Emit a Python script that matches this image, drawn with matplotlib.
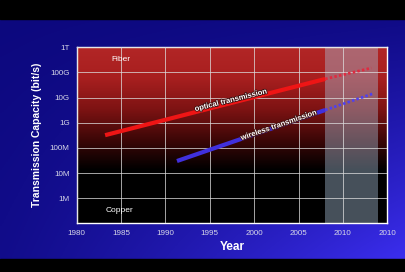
import numpy as np
import matplotlib
matplotlib.use('Agg')
import matplotlib.pyplot as plt
import matplotlib.patheffects as pe
from matplotlib.colors import LinearSegmentedColormap

plt.rcParams['font.family'] = ['Liberation Sans', 'DejaVu Sans']

# data
opt_years = [1983.2, 2008]
opt_rate = [3.2e8, 5.5e10]
opt_proj_years = [2008, 2013.2]
opt_proj_rate = [5.5e10, 1.5e11]

wl_years = [1991.3, 2008]
wl_rate = [3e7, 3.2e9]
wl_proj_years = [2008, 2013.3]
wl_proj_rate = [3.2e9, 1.4e10]

forecast_span = [2008, 2014]

x_ticks = [1980, 1985, 1990, 1995, 2000, 2005, 2010, 2015]
x_labels = ['1980', '1985', '1990', '1995', '2000', '2005', '2010', '2010']
y_ticks = [1e6, 1e7, 1e8, 1e9, 1e10, 1e11, 1e12]
y_labels = ['1M', '10M', '100M', '1G', '10G', '100G', '1T']

W, H = 406, 272
fig = plt.figure(figsize=(W / 100, H / 100), dpi=100)
fig.patch.set_facecolor('black')

# blue slide background, dark top-left to bright bottom-right
bg = fig.add_axes([0, 0, 1, 1])
bg.set_axis_off()
xx, yy = np.meshgrid(np.linspace(0, 1, 200), np.linspace(0, 1, 200))
t = np.clip(0.12 * yy + 0.04 * xx + 0.84 * (xx * yy) ** 1.2, 0, 1)
dark = np.array([12, 8, 125]) / 255
bright = np.array([62, 48, 245]) / 255
img = dark[None, None, :] * (1 - t[..., None]) + bright[None, None, :] * t[..., None]
bg.imshow(img, extent=[0, 1, 0, 1], origin='upper', aspect='auto')
bg.axhspan(1 - 19 / H, 1, color='black')
bg.axhspan(0, 13 / H, color='black')
bg.set_xlim(0, 1)
bg.set_ylim(0, 1)

ax = fig.add_axes([76.7 / W, 48.7 / H, 310.6 / W, 176 / H])
ax.set_yscale('log')
ax.set_xlim(1980, 2015)
ax.set_ylim(1e5, 1e12)

# red to black fill of the plot area
red_cmap = LinearSegmentedColormap.from_list('fb', ['black', '#3e0707', '#7e1313', '#a81f1f', '#b22626'])
grad = np.linspace(0, 1, 256)
grad = np.clip((grad - 2.1 / 7) / (1 - 2.1 / 7), 0, 1)
ax.imshow(grad[:, None], extent=[0, 1, 0, 1], origin='lower', aspect='auto',
          cmap=red_cmap, transform=ax.transAxes, zorder=0)

ax.axvspan(forecast_span[0], forecast_span[1], color='#a8c0d8', alpha=0.42, lw=0, zorder=1)

ax.set_xticks(x_ticks)
ax.set_xticklabels(x_labels)
ax.set_yticks(y_ticks)
ax.set_yticklabels(y_labels)
ax.minorticks_off()
ax.grid(True, color='#dddddd', lw=0.7, alpha=0.75, zorder=2)
ax.set_axisbelow(False)
ax.tick_params(length=0, colors='#d8d8e8', labelsize=5.8, pad=5)
for s in ax.spines.values():
    s.set_color('white')
    s.set_linewidth(1.0)

ax.plot(opt_years, opt_rate, color='#ee1515', lw=3, solid_capstyle='butt', zorder=3)
ax.plot(opt_proj_years, opt_proj_rate, color='#e02a40', lw=2.0, ls=(0, (0.9, 0.8)), zorder=3)
ax.plot(wl_years, wl_rate, color='#4030dd', lw=3, solid_capstyle='butt', zorder=3)
ax.plot(wl_proj_years, wl_proj_rate, color='#5040ee', lw=2.0, ls=(0, (0.9, 0.8)), zorder=3)

stroke = [pe.withStroke(linewidth=1.2, foreground='#401010')]
ax.text(1997.4, 7.5e9, 'optical transmission', color='white', fontsize=5.5, fontweight='bold',
        rotation=14, ha='center', va='center', zorder=4, path_effects=stroke)
ax.text(2002.8, 7.6e8, 'wireless transmission', color='white', fontsize=5.5, fontweight='bold',
        rotation=19, ha='center', va='center', zorder=4, path_effects=stroke)
ax.text(1985, 3.2e11, 'Fiber', color='white', fontsize=6, ha='center', va='center', zorder=4)
ax.text(1984.8, 3.2e5, 'Copper', color='white', fontsize=6, ha='center', va='center', zorder=4)

ax.set_xlabel('Year', color='white', fontsize=8.5, fontweight='bold', labelpad=3)
ax.set_ylabel('Transmission Capacity (bit/s)', color='white', fontsize=7.5, fontweight='bold', labelpad=6)

fig.savefig('out.png', dpi=100, facecolor=fig.get_facecolor())
